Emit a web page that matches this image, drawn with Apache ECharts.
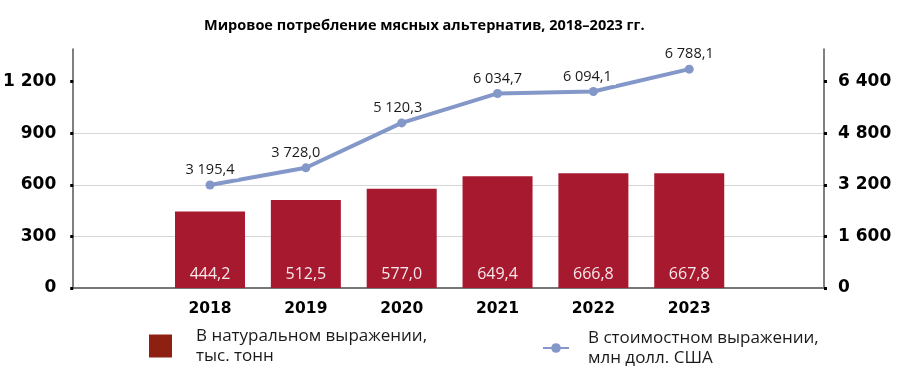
<!DOCTYPE html>
<html><head><meta charset="utf-8">
<script src="https://cdn.jsdelivr.net/npm/echarts@6/dist/echarts.min.js"></script>
<style>html,body{margin:0;padding:0;background:#fff}#c{width:900px;height:374px}</style>
</head><body><div id="c"></div>
<script>
var titleText = 'Мировое потребление мясных альтернатив, 2018–2023 гг.';
var years = [2018, 2019, 2020, 2021, 2022, 2023];
var naturalVals = [444.2, 512.5, 577.0, 649.4, 666.8, 667.8];
var moneyVals = [3195.4, 3728.0, 5120.3, 6034.7, 6094.1, 6788.1];
var leftTicks = [0, 300, 600, 900, 1200];
var rightTicks = [0, 1600, 3200, 4800, 6400];
var nameNatural = 'В натуральном выражении,\nтыс. тонн';
var nameMoney = 'В стоимостном выражении,\nмлн долл. США';

// label nudges (styling only)
var moneyLabelShift = {2019: -10, 2020: -4, 2022: -6};
var noLabelBg = {2020: true, 2019: true};

function fmt(v, d) {
  var s = Number(v).toFixed(d);
  var parts = s.split('.');
  var ip = parts[0].replace(/\B(?=(\d{3})+(?!\d))/g, ' ');
  return parts.length > 1 ? ip + ',' + parts[1] : ip;
}

var chart = echarts.init(document.getElementById('c'), null, {renderer: 'canvas'});
var axisFont = 'DejaVu Sans';
var txtFont = 'Open Sans';
chart.setOption({
  animation: false,
  backgroundColor: '#fff',
  title: {
    text: titleText, left: 199, top: 13,
    textStyle: {fontFamily: txtFont, fontSize: 14.5, fontWeight: 'bold', color: '#000'}
  },
  grid: {left: 72, right: 76, top: 49, bottom: 86},
  legend: [
    {
      data: [{name: nameNatural, itemStyle: {color: '#8E2012'}}],
      left: 149, top: 326, padding: 0,
      itemWidth: 23, itemHeight: 23, icon: 'rect',
      textStyle: {fontFamily: txtFont, fontSize: 17, color: '#1a1a1a', lineHeight: 20, padding: [0, 0, 0, 19]}
    },
    {
      data: [{name: nameMoney}],
      left: 542, top: 328, padding: 0,
      itemWidth: 26, itemHeight: 12,
      textStyle: {fontFamily: txtFont, fontSize: 17, color: '#1a1a1a', lineHeight: 20, padding: [0, 0, 0, 14]}
    }
  ],
  xAxis: {
    type: 'value', min: 2016.573, max: 2024.406,
    axisLine: {show: true, lineStyle: {color: '#777', width: 2}},
    axisTick: {show: false},
    splitLine: {show: false},
    axisLabel: {
      customValues: years, margin: 13,
      fontFamily: axisFont, fontSize: 15.5, fontWeight: 'bold', color: '#000',
      formatter: function (v) { return String(v); }
    }
  },
  yAxis: [
    {
      type: 'value', min: 0, max: 1390, interval: 300, position: 'left',
      axisLine: {show: true, lineStyle: {color: '#555', width: 1.5}},
      axisTick: {show: true, customValues: leftTicks, length: 3, lineStyle: {color: '#000', width: 3}},
      splitLine: {show: true, showMaxLine: false, lineStyle: {color: '#d6d6d6', width: 1}},
      axisLabel: {
        customValues: leftTicks, margin: 17,
        fontFamily: axisFont, fontSize: 17, fontWeight: 'bold', color: '#000',
        formatter: function (v) { return leftTicks.indexOf(v) >= 0 ? fmt(v, 0) : ''; }
      }
    },
    {
      type: 'value', min: 0, max: 1390 * 16 / 3, interval: 1600, position: 'right',
      axisLine: {show: true, lineStyle: {color: '#555', width: 1.5}},
      axisTick: {show: true, customValues: rightTicks, length: 3, lineStyle: {color: '#000', width: 3}},
      splitLine: {show: false},
      axisLabel: {
        customValues: rightTicks, margin: 14,
        fontFamily: axisFont, fontSize: 17, fontWeight: 'bold', color: '#000',
        formatter: function (v) { return rightTicks.indexOf(v) >= 0 ? fmt(v, 0) : ''; }
      }
    }
  ],
  series: [
    {
      name: nameNatural, type: 'bar', yAxisIndex: 0, barWidth: 70,
      itemStyle: {color: '#A6192E'},
      data: years.map(function (y, i) { return [y, naturalVals[i]]; }),
      label: {
        show: true, position: 'insideBottom', distance: 6,
        fontFamily: txtFont, fontSize: 16, color: '#f6e8ec',
        formatter: function (p) { return fmt(p.value[1], 1); }
      },
      z: 2
    },
    {
      name: nameMoney, type: 'line', yAxisIndex: 1,
      symbol: 'circle', symbolSize: 9,
      lineStyle: {color: '#8497C9', width: 4},
      itemStyle: {color: '#8497C9'},
      data: years.map(function (y, i) {
        var item = {value: [y, moneyVals[i]]};
        var lab = {};
        if (moneyLabelShift[y]) lab.offset = [moneyLabelShift[y], 0];
        if (noLabelBg[y]) lab.backgroundColor = 'transparent';
        item.label = lab;
        return item;
      }),
      label: {
        show: true, position: 'top', distance: 2,
        fontFamily: txtFont, fontSize: 14.5, color: '#1a1a1a',
        backgroundColor: '#fff', padding: [1, 4],
        formatter: function (p) { return fmt(p.value[1], 1); }
      },
      z: 3
    }
  ]
});
</script></body></html>
